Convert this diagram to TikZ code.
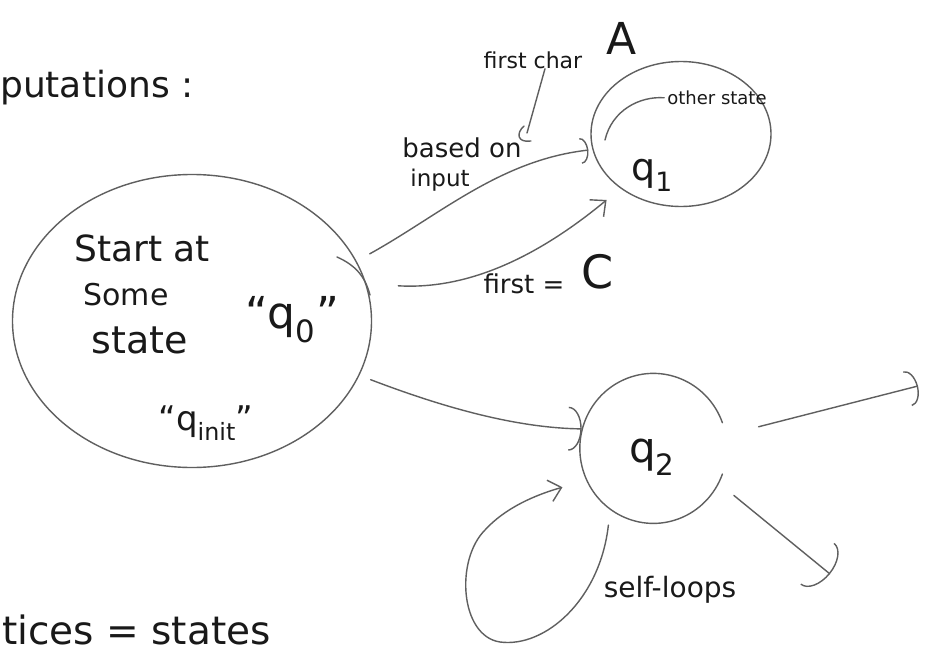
\documentclass[tikz,border=0pt]{standalone}
\usepackage{fontspec}
\setmainfont{DejaVu Sans}
\usetikzlibrary{arrows.meta,shapes.geometric}
\definecolor{pen}{RGB}{95,95,95}
\definecolor{ink}{RGB}{25,25,25}
\newcommand{\fs}[1]{\fontsize{#1}{#1}\selectfont}
\begin{document}
\begin{tikzpicture}[x=1pt,y=1pt,
  line/.style={draw=pen, line width=1.4pt, line cap=round, line join=round},
  statebox/.style={ellipse, draw=pen, line width=1.4pt, inner sep=0pt},
  txt/.style={text=ink, inner sep=0pt, font=\fs{26}},
  hook/.style={-{Arc Barb[width=#1, length=0.3*#1, line width=1.4pt]}},
  barb/.style={-{Straight Barb[width=22pt, length=12pt, line width=1.4pt]}}]
\useasboundingbox (0,0) rectangle (930,-656);
\fill[white] (0,0) rectangle (930,-656);

% states
\node[statebox, minimum width=359pt, minimum height=293pt] (q0) at (192,-321) {};
\node[statebox, minimum width=180pt, minimum height=145pt] (q1) at (681,-134) {};
\node[ellipse, inner sep=0pt, minimum width=147pt, minimum height=150pt] (q2) at (653,-448) {};
\draw[line] (q2.20) arc[start angle=20, end angle=340, x radius=73.5pt, y radius=75pt];
\draw[line] (337,-257) .. controls (355,-265) and (365,-276) .. (370,-295);

% texts
\node[txt, anchor=west, font=\fs{36}] (comp) at (0,-88) {putations :};
\node[txt, font=\fs{36}] (l1) at (142,-248) {Start at};
\node[txt, font=\fs{30}] (l2) at (126,-295) {Some};
\node[txt, font=\fs{38}] (l3) at (140,-340) {state};
\node[txt, font=\fs{44}] (q0lab) at (292,-320) {``q\textsubscript{0}''};
\node[txt, font=\fs{34}] (qinit) at (206,-423) {``q\textsubscript{init}''};
\node[txt, font=\fs{38}] (q1lab) at (652,-175) {q\textsubscript{1}};
\node[txt, font=\fs{18}] (other) at (717,-98) {other state};
\node[txt, font=\fs{22}] (fc) at (533,-60) {first char};
\node[txt, font=\fs{44}] (A) at (622,-38) {A};
\node[txt, font=\fs{26}] (based) at (462,-148) {based on};
\node[txt, font=\fs{23}] (input) at (440,-180) {input};
\node[txt, font=\fs{26}] (first) at (524,-284) {first =};
\node[txt, font=\fs{46}] (Cc) at (598,-272) {C};
\node[txt, font=\fs{42}] (q2lab) at (652,-457) {q\textsubscript{2}};
\node[txt, font=\fs{28}] (self) at (670,-590) {self-loops};
\node[txt, anchor=west, font=\fs{39}] (vert) at (2,-630) {tices = states};

% transitions
\draw[line, hook=26pt, shorten <=15pt, shorten >=4pt]
  (q0.20) .. controls (440,-215) and (500,-160) .. (q1.190);
\draw[line, barb, shorten <=32pt, shorten >=18pt]
  (q0.12) .. controls (470,-290) and (540,-255) .. (q1.222);
\draw[line, hook=44pt, shorten <=12pt]
  (q0.-18) .. controls (450,-410) and (520,-428) .. (q2.165);
\coordinate (c1) at (918,-386);
\coordinate (c2) at (830,-574);
\draw[line, hook=36pt, shorten <=34pt] (q2.10) -- (c1);
\draw[line, hook=54pt, shorten <=20pt] (q2.-28) -- (c2);
\draw[line, barb, shorten <=16pt, shorten >=25pt]
  (q2.-125) .. controls (600,-600) and (545,-648) .. (500,-642)
  .. controls (460,-636) and (455,-560) .. (485,-530)
  .. controls (505,-508) and (535,-495) .. (q2.206);

% pointers
\coordinate (fcp) at (527,-133);
\draw[line] ([xshift=12pt]fc.south) -- (fcp);
\draw[line] (524,-126) .. controls (516,-133) and (517,-143) .. (531,-141);
\draw[line, shorten <=3pt] (other.west) .. controls (640,-96) and (612,-110) .. (605,-140);
\end{tikzpicture}
\end{document}
